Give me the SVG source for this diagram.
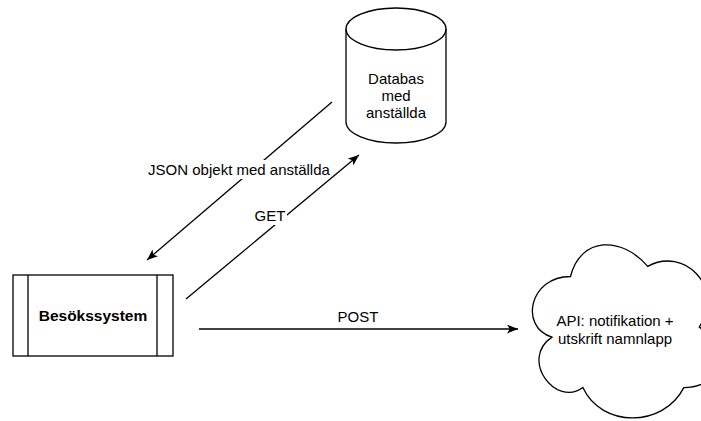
<svg xmlns="http://www.w3.org/2000/svg" width="701" height="421" viewBox="0 0 701 421">
<style>
.s{fill:#fff;stroke:#000;stroke-width:1.3}
.l{fill:none;stroke:#000;stroke-width:1.3}
text{font-family:"Liberation Sans",Arial,sans-serif;font-size:15px;fill:#000;text-anchor:middle}
.b{font-weight:bold;font-size:15.5px}
</style>
<defs>
<marker id="ah" viewBox="0 0 10 8" refX="10" refY="4" markerWidth="11" markerHeight="9" markerUnits="userSpaceOnUse" orient="auto">
<path d="M0,0 L10,4 L0,8 L2.5,4 Z" fill="#000"/>
</marker>
</defs>
<rect width="701" height="421" fill="#fff"/>
<g id="connectors">
<g id="e-json">
<line class="l" x1="332" y1="102" x2="147" y2="260" marker-end="url(#ah)"/>
<rect x="140" y="160" width="198" height="19" fill="#fff"/>
<text x="239" y="175">JSON objekt med anställda</text>
</g>
<g id="e-get">
<line class="l" x1="186" y1="299" x2="359" y2="155" marker-end="url(#ah)"/>
<rect x="253" y="207" width="34" height="18" fill="#fff"/>
<text x="270" y="221">GET</text>
</g>
<g id="e-post">
<line class="l" x1="199" y1="329" x2="518" y2="329" marker-end="url(#ah)"/>
<text x="358" y="322">POST</text>
</g>
</g>
<g id="db">
<path class="s" d="M346,29 A50,21 0 0 1 446,29 L446,122 A50,21 0 0 1 346,122 Z"/>
<path class="l" d="M346,29 A50,21 0 0 0 446,29"/>
<text x="396" y="84">Databas</text>
<text x="396" y="101">med</text>
<text x="396" y="118">anställda</text>
</g>
<g id="besok">
<rect class="s" x="13" y="275" width="160" height="81"/>
<line class="l" x1="28" y1="275" x2="28" y2="356"/>
<line class="l" x1="157" y1="275" x2="157" y2="356"/>
<text class="b" x="93" y="321">Besökssystem</text>
</g>
<g id="api">
<path class="s" transform="translate(519,226) scale(206,202)" vector-effect="non-scaling-stroke" d="M0.25,0.25 C0.05,0.25 0,0.5 0.16,0.55 C0,0.66 0.18,0.9 0.31,0.8 C0.4,1 0.7,1 0.8,0.8 C1,0.8 1,0.6 0.875,0.5 C1,0.3 0.8,0.1 0.625,0.2 C0.5,0.05 0.3,0.05 0.25,0.25 Z"/>
<text x="615" y="326">API: notifikation +</text>
<text x="615" y="344">utskrift namnlapp</text>
</g>
</svg>
